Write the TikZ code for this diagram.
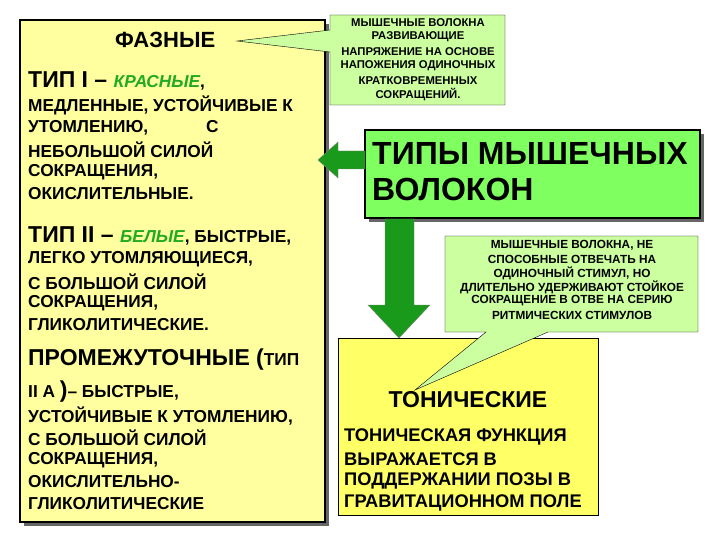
\documentclass[tikz,border=0pt]{standalone}
\usepackage{fontspec}
\setmainfont{Liberation Sans}
\definecolor{ly}{HTML}{FFFF9F}
\definecolor{yy}{HTML}{FFFF66}
\definecolor{lg}{HTML}{CCFFA0}
\definecolor{gg}{HTML}{80FF60}
\definecolor{dg}{HTML}{1A9A1A}
\definecolor{tg}{HTML}{22AA22}
\newcommand\fs[1]{\fontsize{#1}{#1}\selectfont}
\begin{document}
\begin{tikzpicture}[x=1pt,y=-1pt,
  L/.style={anchor=west,inner sep=0,font=\bfseries\fs{17.3}},
  B/.style={anchor=west,inner sep=0,font=\bfseries\fs{23}},
  S/.style={inner sep=0,font=\bfseries\fs{11.3}}]
\useasboundingbox (0,0) rectangle (720,540);
% left box
\fill[black!60] (24,24) rectangle (329,526);
\draw[line width=2.5pt,fill=ly] (20,20) rectangle (325,522);
\node[coordinate] (faz) at (237,41) {};
\node[B,font=\bfseries\fs{22}] (t0) at (115,40) {ФАЗНЫЕ};
\node[B] (t1) at (28,81) {ТИП I – \textcolor{tg}{\itshape\fs{17.3}КРАСНЫЕ}\fs{17.3},};
\node[L] (t2) at (28,105) {МЕДЛЕННЫЕ, УСТОЙЧИВЫЕ К};
\node[L] (t3) at (28,128) {УТОМЛЕНИЮ,\hspace{58pt}С};
\node[L] (t4) at (28,150) {НЕБОЛЬШОЙ СИЛОЙ};
\node[L] (t5) at (28,172) {СОКРАЩЕНИЯ,};
\node[L] (t6) at (28,194) {ОКИСЛИТЕЛЬНЫЕ.};
\node[B] (t7) at (28,236) {ТИП II – \textcolor{tg}{\itshape\fs{17.3}БЕЛЫЕ}\fs{17.3}, БЫСТРЫЕ,};
\node[L] (t8) at (28,259) {ЛЕГКО УТОМЛЯЮЩИЕСЯ,};
\node[L] (t9) at (28,282) {С БОЛЬШОЙ СИЛОЙ};
\node[L] (t10) at (28,303) {СОКРАЩЕНИЯ,};
\node[L] (t11) at (28,325) {ГЛИКОЛИТИЧЕСКИЕ.};
\node[B] (t12) at (28,360) {ПРОМЕЖУТОЧНЫЕ (\fs{17.3}ТИП};
\node[L] (t13) at (28,392) {II A \fs{23})\fs{17.3}– БЫСТРЫЕ,};
\node[L] (t14) at (28,416) {УСТОЙЧИВЫЕ К УТОМЛЕНИЮ,};
\node[L] (t15) at (28,438) {С БОЛЬШОЙ СИЛОЙ};
\node[L] (t16) at (28,460) {СОКРАЩЕНИЯ,};
\node[L] (t17) at (28,482) {ОКИСЛИТЕЛЬНО-};
\node[L] (t18) at (28,504) {ГЛИКОЛИТИЧЕСКИЕ};
% top callout
\draw[fill=lg,line width=0.4pt] (330,15) -- (505,15) -- (505,105) -- (330,105) -- (330,52) -- (faz) -- (330,30) -- cycle;
\foreach \t [count=\i] in {МЫШЕЧНЫЕ ВОЛОКНА,РАЗВИВАЮЩИЕ,НАПРЯЖЕНИЕ НА ОСНОВЕ,НАПОЖЕНИЯ ОДИНОЧНЫХ,КРАТКОВРЕМЕННЫХ,СОКРАЩЕНИЙ.}
  \node[S] (c1\i) at (418,8+14.5*\i) {\t};
% green box
\fill[black!60] (369,134) rectangle (704,222);
\draw[line width=2.5pt,fill=gg] (365,130) rectangle (700,218);
\node[anchor=west,inner sep=0,font=\bfseries\fs{32}] (g1) at (372,153) {ТИПЫ МЫШЕЧНЫХ};
\node[anchor=west,inner sep=0,font=\bfseries\fs{32}] (g2) at (372,189) {ВОЛОКОН};
% left arrow
\fill[dg,draw=black!50] (318,160) -- (338,142) -- (338,151) -- (365,151) -- (365,169) -- (338,169) -- (338,178) -- cycle;
% down arrow
\fill[dg,draw=black!50] (385,219) -- (414,219) -- (414,305) -- (430,305) -- (399,338) -- (368,305) -- (385,305) -- cycle;
% tonic box
\node[coordinate] (tp) at (415,390) {};
\draw[fill=yy] (338,338) rectangle (598,515);
\node[anchor=center,inner sep=0,font=\bfseries\fs{23}] (h) at (468,400) {ТОНИЧЕСКИЕ};
\node[L,font=\bfseries\fs{18.3}] (h1) at (344,437) {ТОНИЧЕСКАЯ ФУНКЦИЯ};
\node[L,font=\bfseries\fs{18.3}] (h2) at (344,459) {ВЫРАЖАЕТСЯ В};
\node[L,font=\bfseries\fs{18.3}] (h3) at (344,481) {ПОДДЕРЖАНИИ ПОЗЫ В};
\node[L,font=\bfseries\fs{18.3}] (h4) at (344,503) {ГРАВИТАЦИОННОМ ПОЛЕ};
% second callout
\draw[fill=lg,line width=0.4pt] (445,236) -- (698,236) -- (698,332) -- (548,332) -- (tp) -- (486,332) -- (445,332) -- cycle;
\foreach \t [count=\i] in {{МЫШЕЧНЫЕ ВОЛОКНА, НЕ},СПОСОБНЫЕ ОТВЕЧАТЬ НА,{ОДИНОЧНЫЙ СТИМУЛ, НО},ДЛИТЕЛЬНО УДЕРЖИВАЮТ СТОЙКОЕ,СОКРАЩЕНИЕ В ОТВЕ НА СЕРИЮ,РИТМИЧЕСКИХ  СТИМУЛОВ}
  \node[S,font=\bfseries\fs{11.8}] (c2\i) at (572,231+14*\i) {\t};
\end{tikzpicture}
\end{document}
